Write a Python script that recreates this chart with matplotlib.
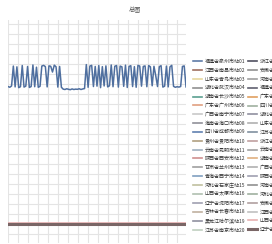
import matplotlib
matplotlib.use("Agg")
import matplotlib.pyplot as plt
from matplotlib.ticker import MultipleLocator

plt.rcParams['font.family'] = ['Noto Sans CJK SC', 'DejaVu Sans']

title = "总图"

main_values = [
    742, 738, 745, 852, 740, 848, 736, 741, 855, 739,
    744, 850, 737, 742, 858, 741, 846, 738, 743, 852,
    856, 849, 740, 853, 851, 820, 857, 848, 739, 850,
    738, 728, 726, 730, 727, 725, 729, 726, 728, 727,
    730, 726, 729, 731, 860, 738, 852, 856, 742, 850,
    744, 855, 736, 849, 745, 853, 740, 746, 858, 741,
    851, 855, 739, 852, 848, 743, 857, 737, 850, 854,
    742, 849, 738, 856, 852, 744, 850, 853, 741, 855,
    848, 746, 851, 800, 742, 849, 854, 739, 744, 852,
    740, 848, 856, 743, 738, 741, 739, 742, 850, 853,
    740,
]

labels = [
    "福建省泉州市站01", "江西省南昌市站02", "山东省青岛市站03", "湖北省武汉市站04",
    "湖南省长沙市站05", "广东省广州市站06", "广西省南宁市站07", "海南省海口市站08",
    "四川省成都市站09", "贵州省贵阳市站10", "云南省昆明市站11", "陕西省西安市站12",
    "甘肃省兰州市站13", "青海省西宁市站14", "河北省石家庄站15", "山西省太原市站16",
    "辽宁省沈阳市站17", "吉林省长春市站18", "黑龙江哈尔滨站19", "江苏省南京市站20",
    "浙江省杭州市站21", "安徽省合肥市站22", "河南省郑州市站23", "福建省厦门市站24",
    "广东省深圳市站25", "四川省绵阳市站26", "湖北省宜昌市站27", "山东省济南市站28",
    "江苏省苏州市站29", "浙江省宁波市站30", "云南省大理市站31", "湖南省岳阳市站32",
    "广西省桂林市站33", "陕西省宝鸡市站34", "河南省洛阳市站35", "河北省保定市站36",
    "安徽省芜湖市站37", "江西省九江市站38", "山西省大同市站39", "辽宁省大连市站40",
]

colors = [
    "#4f6f9f", "#a07060", "#e8d8a0", "#909090", "#5aa090", "#e0a080", "#c8c8c8", "#909098",
    "#6080b0", "#b0a080", "#a0b0c0", "#d09090", "#a0a0a0", "#80a0c0", "#c0c0a0", "#b0c0b0",
    "#a0a0b0", "#c0b0a0", "#9090a0", "#c0d0c0",
    "#505060", "#909090", "#a0a0a0", "#606070", "#e0a060", "#a0b0a0", "#9090a0", "#b0b0b0",
    "#8090a0", "#c0a0a0", "#a0a0a0", "#e0b080", "#b0b0b0", "#a0a0b0", "#909090", "#a0b0a0",
    "#b0a0a0", "#c0c0c0", "#a09090", "#7a6666",
]

fig = plt.figure(figsize=(2.72, 2.44), dpi=100)
ax = fig.add_axes([8/272, 1/244, 178/272, 223/244])

x = list(range(len(main_values)))
ax.plot(x, main_values, color=colors[0], lw=1.1, label=labels[0], zorder=3)
for i in range(1, len(labels)):
    val = 10 if i == len(labels) - 2 else 0
    c = "#e8b0b0" if i == len(labels) - 2 else colors[i]
    ax.plot(x, [val] * len(x), color=c, lw=2.2 if i == len(labels) - 1 else 1.2,
            label=labels[i], zorder=2)

ax.set_xlim(0, len(x) - 1)
ax.set_ylim(-100, 1100)
ax.xaxis.set_major_locator(MultipleLocator(5.6))
ax.yaxis.set_major_locator(MultipleLocator(54))
ax.grid(True, color="#e4e4e4", lw=0.8)
ax.tick_params(length=0, labelbottom=False, labelleft=False)
for s in ax.spines.values():
    s.set_visible(False)

fig.text(135/272, 1 - 10/244, title, ha="center", va="center", fontsize=4.5, color="#555555")

leg = fig.legend(loc="upper left", bbox_to_anchor=(193/272, 1 - 59/244), ncol=2,
                 frameon=False, fontsize=3.6, handlelength=1.8, handletextpad=0.5,
                 columnspacing=0.6, labelspacing=0.75, borderpad=0, borderaxespad=0)
for t in leg.get_texts():
    t.set_color("#333333")

fig.savefig("out.png", dpi=100)
